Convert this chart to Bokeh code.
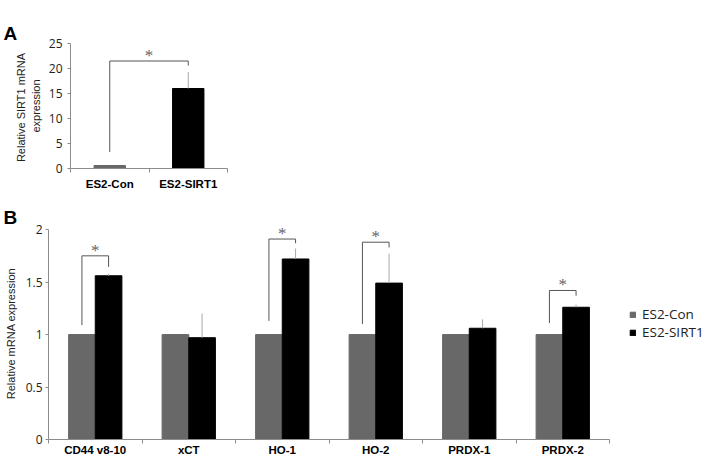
from bokeh.plotting import figure
from bokeh.models import (Range1d, FixedTicker, LinearAxis, LabelSet, Legend,
                          LegendItem, ColumnDataSource, Title)
from bokeh.layouts import column, row
from bokeh.transform import dodge
from bokeh.embed import file_html
from bokeh.resources import INLINE

# ---------------- data ----------------
# Panel A
a_groups = ["ES2-Con", "ES2-SIRT1"]
a_values = [0.6, 16.0]
a_errors = [0.0, 3.3]
a_bracket_left = 3.3     # bottom of left leg
a_bracket_top = 21.5     # bracket height
a_bracket_right = 20.6   # bottom of right leg
a_yticks = [0, 5, 10, 15, 20, 25]

# Panel B
b_genes = ["CD44 v8-10", "xCT", "HO-1", "HO-2", "PRDX-1", "PRDX-2"]
b_con = [1.0, 1.0, 1.0, 1.0, 1.0, 1.0]
b_sirt1 = [1.56, 0.97, 1.72, 1.49, 1.06, 1.26]
b_sirt1_err = [0.02, 0.23, 0.10, 0.28, 0.085, 0.025]
b_sig = [True, False, True, True, False, True]
b_br_left = [1.09, 0, 1.13, 1.10, 0, 1.11]
b_br_top = [1.75, 0, 1.91, 1.88, 0, 1.42]
b_br_right = [1.645, 0, 1.87, 1.83, 0, 1.37]
b_yticks = [0, 0.5, 1, 1.5, 2]

series_names = ["ES2-Con", "ES2-SIRT1"]

GRAY = "#686868"
BLACK = "#000000"
AXIS = "#8c8c8c"
ERR = "#a8a8a8"
BRK = "#555555"
STAR = "#666666"
TICKFONT = "Open Sans"
CATFONT = "Liberation Sans"


def style_axes(p, cats_ticks, cat_labels, yticks):
    xa = p.xaxis[0]
    xa.ticker = FixedTicker(ticks=cats_ticks,
                            minor_ticks=list(range(len(cats_ticks) + 1)))
    xa.major_label_overrides = {t: l for t, l in zip(cats_ticks, cat_labels)}
    xa.major_tick_line_color = None
    xa.major_tick_out = 0
    xa.major_tick_in = 0
    xa.minor_tick_line_color = AXIS
    xa.minor_tick_out = 4
    xa.minor_tick_in = 0
    xa.axis_line_color = AXIS
    xa.major_label_text_font = CATFONT
    xa.major_label_text_font_style = "bold"
    xa.major_label_text_font_size = "11.5px"
    xa.major_label_text_color = "#000000"

    ya = p.yaxis[0]
    ya.ticker = FixedTicker(ticks=yticks)
    ya.bounds = (yticks[0], yticks[-1])
    ya.minor_tick_line_color = None
    ya.major_tick_line_color = AXIS
    ya.major_tick_out = 3
    ya.major_tick_in = 0
    ya.axis_line_color = AXIS
    ya.major_label_text_font = TICKFONT
    ya.major_label_text_font_size = "12px"
    ya.major_label_text_color = "#222222"
    ya.axis_label_text_font = CATFONT
    ya.axis_label_text_font_style = "normal"
    ya.axis_label_text_font_size = "11px"
    ya.axis_label_text_color = "#222222"

    p.xgrid.grid_line_color = None
    p.ygrid.grid_line_color = None
    p.outline_line_color = None


def add_stars(p, xs, ys):
    src = ColumnDataSource(dict(x=xs, y=ys, t=["*"] * len(xs)))
    p.add_layout(LabelSet(x="x", y="y", text="t", source=src,
                          text_font=CATFONT, text_font_size="17px",
                          text_color=STAR, text_align="center",
                          text_baseline="alphabetic", y_offset=0))


def add_letter(p, letter, offset, gap):
    # empty, tick-less axis used only as vertical spacing above the frame
    if gap > 0:
        spacer = LinearAxis(ticker=FixedTicker(ticks=[], minor_ticks=[]),
                            axis_line_color=None,
                            major_tick_line_color="#ffffff",
                            minor_tick_line_color=None,
                            major_tick_out=gap, major_tick_in=0,
                            minor_tick_out=0, major_label_standoff=0)
        p.add_layout(spacer, "above")
    p.add_layout(Title(text=letter, align="left", offset=offset, standoff=0,
                       text_font=CATFONT, text_font_style="bold",
                       text_font_size="19px", text_color="#000000",
                       vertical_align="bottom"), "above")


# ---------------- Panel A ----------------
nA = len(a_groups)
a_x = [i + 0.5 for i in range(nA)]
srcA = ColumnDataSource(dict(x=a_x, top=a_values,
                             etop=[v + e for v, e in zip(a_values, a_errors)],
                             color=[GRAY, BLACK]))

pA = figure(frame_width=157, frame_height=125, output_backend="svg",
            toolbar_location=None, x_range=Range1d(0, nA), title=None,
            y_range=Range1d(0, 25), min_border_left=70, min_border_top=43,
            min_border_bottom=24, min_border_right=10)
pA.vbar(x="x", top="top", bottom=0, width=0.4, color="color", source=srcA)
pA.segment(x0="x", y0="top", x1="x", y1="etop", color=ERR, line_width=1,
           source=srcA)
pA.multi_line(xs=[[a_x[0], a_x[0], a_x[1], a_x[1]]],
              ys=[[a_bracket_left, a_bracket_top, a_bracket_top, a_bracket_right]],
              line_color=BRK, line_width=1)
add_stars(pA, [(a_x[0] + a_x[1]) / 2], [a_bracket_top])
style_axes(pA, a_x, a_groups, a_yticks)
pA.xaxis.major_label_standoff = 5
pA.yaxis.major_label_standoff = 5
pA.yaxis.axis_label = "Relative  SIRT1 mRNA\nexpression"
pA.yaxis.axis_label_standoff = 4
add_letter(pA, "A", -67, 16)

# ---------------- Panel B ----------------
nB = len(b_genes)
b_x = [i + 0.5 for i in range(nB)]
off = 0.1425
srcB = ColumnDataSource(dict(x=b_x, con=b_con, sirt=b_sirt1,
                             etop=[v + e for v, e in zip(b_sirt1, b_sirt1_err)]))

pB = figure(frame_width=561, frame_height=212, output_backend="svg",
            toolbar_location=None, x_range=Range1d(0, nB), title=None,
            y_range=Range1d(0, 2.02), min_border_left=48, min_border_top=35,
            min_border_bottom=20, min_border_right=106)
rc = pB.vbar(x=dodge("x", -off), top="con", bottom=0, width=2 * off,
             color=GRAY, source=srcB)
rs = pB.vbar(x=dodge("x", off), top="sirt", bottom=0, width=2 * off,
             color=BLACK, source=srcB)
pB.segment(x0=dodge("x", off), y0="sirt", x1=dodge("x", off), y1="etop",
           color=ERR, line_width=1, source=srcB)

bxs, bys, sx, sy = [], [], [], []
for i, s in enumerate(b_sig):
    if s:
        g = b_x[i] - off
        b = b_x[i] + off
        bxs.append([g, g, b, b])
        bys.append([b_br_left[i], b_br_top[i], b_br_top[i], b_br_right[i]])
        sx.append((g + b) / 2)
        sy.append(b_br_top[i])
pB.multi_line(xs=bxs, ys=bys, line_color=BRK, line_width=1)
add_stars(pB, sx, sy)

style_axes(pB, b_x, b_genes, b_yticks)
pB.xaxis.major_label_standoff = 0
pB.yaxis.major_label_standoff = 3
pB.yaxis.axis_label = "Relative mRNA expression"
pB.yaxis.axis_label_standoff = 6

legend = Legend(items=[LegendItem(label=series_names[0], renderers=[rc]),
                       LegendItem(label=series_names[1], renderers=[rs])],
                location=(20, 98), orientation="vertical")
legend.margin = 0
legend.padding = 0
legend.spacing = -9
legend.glyph_width = 7
legend.glyph_height = 7
legend.label_standoff = 6
legend.label_height = 9
legend.label_text_font = TICKFONT
legend.label_text_font_size = "13.5px"
legend.label_text_color = "#222222"
legend.border_line_color = None
legend.background_fill_alpha = 0
pB.add_layout(legend, "right")

add_letter(pB, "B", -45, 0)

layout = column(row(pA), row(pB))
open("out.html", "w").write(file_html(layout, INLINE))
